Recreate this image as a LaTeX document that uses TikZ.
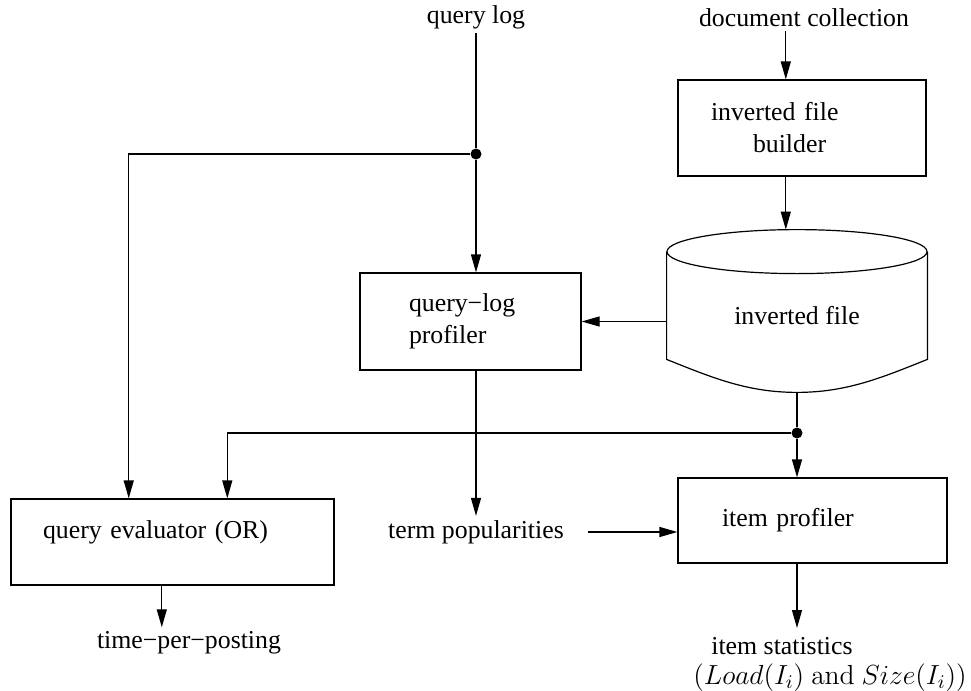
\documentclass[tikz,border=0pt]{standalone}
\usepackage{fix-cm}
\usepackage[no-math]{fontspec}
\setmainfont{Liberation Serif}
\usetikzlibrary{arrows.meta,calc}

\begin{document}
\begin{tikzpicture}[x=0.5pt,y=-0.5pt,
	every node/.style={font=\fontsize{12.9}{16}\selectfont},
	lbl/.style={inner sep=2pt},
	box/.style={draw,line width=0.6pt,align=left,inner ysep=0pt},
	conn/.style={line width=0.6pt},
	arr/.style={conn,-{Triangle[length=9pt,width=5pt]}},
	dot/.style={circle,fill=black,inner sep=0pt,minimum size=5.5pt}]
			%%%%% START %%%%%
			\useasboundingbox (0,0) rectangle (971,691);
			
			% sources
			\node[lbl] (qlog) at (476,17) {query log};
			\node[lbl] (doccol) at (804,18) {document collection};
			
			% boxes
			\node[box, minimum width=124pt, minimum height=48pt, inner xsep=16.5pt, text width=91pt] (builder) at (802,128) {inverted file\\\hspace*{21pt}builder};
			\node[minimum width=130pt, minimum height=81pt, text height=16pt, text depth=3pt] (inv) at (797,311) {inverted file};
			\node[box, minimum width=110.5pt, minimum height=48.5pt, inner xsep=24.5pt, text width=61.5pt] (qlp) at (470.5,321.5) {query−log\\profiler};
			\node[box, minimum width=161.5pt, minimum height=43pt, inner xsep=16pt, text width=129.5pt, text height=9pt, text depth=13pt] (qe) at (172.5,542) {query evaluator (OR)};
			\node[box, minimum width=134.5pt, minimum height=42.5pt, inner xsep=22pt, text width=90.5pt] (ip) at (812.5,520.5) {item profiler};
			
			% results
			\node[lbl] (termpop) at (476,532) {term popularities};
			\node[lbl] (timepp) at (189,643) {time−per−posting};
			\node[align=left, anchor=north west, inner xsep=0pt, inner ysep=4.5pt] (stats) at (693,628) {\hspace*{9pt}item statistics\\[-1pt]{\fontsize{13.8}{17}\selectfont$(Load(I_i)\ \mathrm{and}\ Size(I_i))$}};
			
			% inverted file drum
			\draw[conn] ($(inv.north)+(0,22)$) ellipse [x radius=65pt, y radius=11pt];
			\draw[conn] ($(inv.north west)+(0,22)$) -- ($(inv.south west)+(0,-33)$)
				.. controls +(45,18) and +(-50,0) .. (inv.south)
				.. controls +(50,0) and +(-45,18) .. ($(inv.south east)+(0,-33)$)
				-- ($(inv.north east)+(0,22)$);
			
			% branch points
			\node[dot] (split1) at (476,154) {};
			\node[dot] (split2) at (797,433) {};
			
			\coordinate (bin) at ($(builder.north west)!0.435!(builder.north east)$);
			\coordinate (bout) at ($(builder.south west)!0.435!(builder.south east)$);
			\coordinate (qein1) at ($(qe.north west)!0.365!(qe.north east)$);
			\coordinate (qein2) at ($(qe.north west)!0.669!(qe.north east)$);
			\coordinate (qeout) at ($(qe.south west)!0.467!(qe.south east)$);
			
			% connectors
			\draw[conn] (qlog) -- (split1);
			\draw[arr] (split1) -- (split1 |- qlp.north);
			\draw[arr] (split1) -| (qein1);
			\draw[arr] (bin |- doccol.south) -- (bin);
			\draw[arr] (bout) -- (bout |- inv.north);
			\draw[arr] (inv.west |- qlp.east) -- (qlp.east);
			\draw[conn] (inv.south) -- (split2);
			\draw[arr] (split2) -- (split2 |- ip.north);
			\draw[arr] (split2) -| (qein2);
			\draw[arr] (qlp.south -| termpop) -- (termpop.north);
			\draw[arr] ([xshift=10pt]termpop.east) -- (ip.west |- termpop.east);
			\draw[arr] (qeout) -- (qeout |- timepp.north);
			\draw[arr] (ip.south -| split2) -- (split2 |- stats.north);
			
			%%%%% END %%%%%
\end{tikzpicture}
\end{document}
